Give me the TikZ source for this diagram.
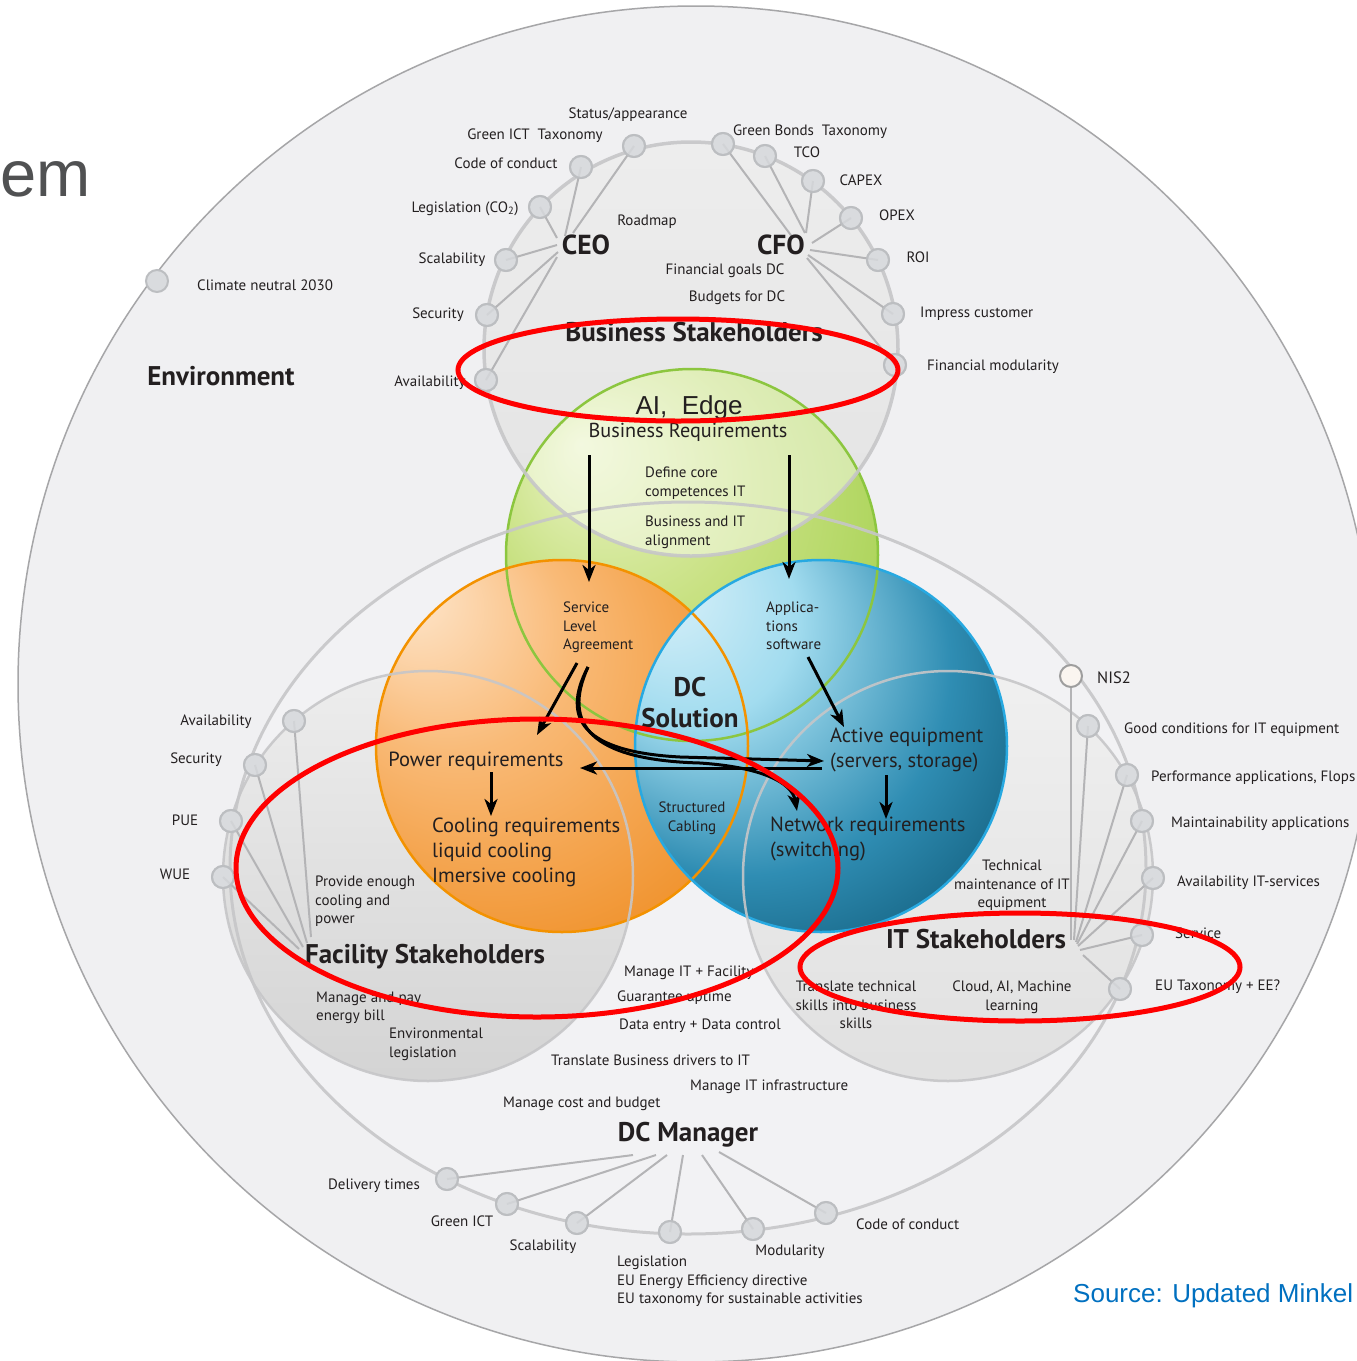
\documentclass[tikz,border=0pt]{standalone}
\usepackage{fontspec}
\setmainfont{PT Sans}
\newfontfamily\arialf{Liberation Sans}
\usetikzlibrary{arrows.meta}
\definecolor{envfill}{HTML}{F0F0F2}
\definecolor{envline}{HTML}{A6A6A8}
\definecolor{dcmfill}{HTML}{F2F2F4}
\definecolor{ringc}{HTML}{C6C6C8}
\definecolor{ndfill}{HTML}{D9DBDE}
\definecolor{ndline}{HTML}{BCBEC1}
\definecolor{connc}{HTML}{B4B4B6}
\definecolor{txt}{HTML}{231F20}
\definecolor{redc}{HTML}{FF0000}
\definecolor{grA}{HTML}{EAF4C6}
\definecolor{grB}{HTML}{C8E182}
\definecolor{grC}{HTML}{A2CF4C}
\definecolor{grD}{HTML}{8CC43C}
\definecolor{orA}{HTML}{FEE9D2}
\definecolor{orB}{HTML}{F9BA77}
\definecolor{orC}{HTML}{F0922C}
\definecolor{orD}{HTML}{DB790F}
\definecolor{blA}{HTML}{E2F4FB}
\definecolor{blB}{HTML}{A2DCEF}
\definecolor{blC}{HTML}{2F8DB3}
\definecolor{blE}{HTML}{105A78}
\definecolor{blD}{HTML}{083A50}
\definecolor{grline}{HTML}{8CC63F}
\definecolor{orline}{HTML}{F39200}
\definecolor{blline}{HTML}{27A9E1}
\definecolor{emgray}{HTML}{505152}
\definecolor{srcblue}{HTML}{0070C0}
\pgfdeclareradialshading{greensh}{\pgfpoint{-15bp}{15bp}}{color(0bp)=(grA); color(18bp)=(grB); color(38bp)=(grC); color(50bp)=(grD)}
\pgfdeclareradialshading{orangesh}{\pgfpoint{-22bp}{22bp}}{color(0bp)=(orA); color(16bp)=(orB); color(36bp)=(orC); color(50bp)=(orD)}
\pgfdeclareradialshading{bluesh}{\pgfpoint{-24bp}{24bp}}{color(0bp)=(blA); color(14bp)=(blB); color(28bp)=(blC); color(40bp)=(blE); color(50bp)=(blD)}
\tikzset{
 lbl/.style={font=\fontsize{15}{18.7}\selectfont, inner sep=0pt, text=txt, yshift=-2.5pt},
 mtx/.style={font=\fontsize{20.5}{25}\selectfont, inner sep=0pt, text=txt, yshift=-2.5pt},
 hd/.style={font=\bfseries\fontsize{27}{31}\selectfont, inner sep=0pt, text=txt, yshift=-2pt},
 nd/.style={circle, minimum size=22pt, inner sep=0pt, fill=ndfill, draw=ndline, line width=2pt},
 conn/.style={draw=connc, line width=2pt},
 arr/.style={draw=black, line width=3pt, -{Stealth[length=17pt,width=13pt,inset=5pt]}},
 redell/.style={draw=redc, line width=5pt},
 greyring/.style={draw=ringc, line width=3pt}
}
\begin{document}
\begin{tikzpicture}[x=1pt,y=-1pt]
\useasboundingbox (0,0) rectangle (1357,1361);
\fill[white] (0,0) rectangle (1357,1361);
% environment
\path[fill=envfill, draw=envline, line width=1.5pt] (696,684) circle [radius=678];
% DC manager ellipse fill
\path[fill=dcmfill] (688,868) ellipse [x radius=458, y radius=366];
% stakeholder circles fills
\shade[top color=white!93!black, bottom color=white!83!black] (428,876) circle [radius=205];
\shade[top color=white!94!black, bottom color=white!88!black] (948,876) circle [radius=205];
\shade[top color=white!93!black, bottom color=white!89!black] (691,349) circle [radius=207];
% coloured circles
\shade[shading=greensh] (692,555) circle [radius=186];
\begin{scope}
\clip (692,555) circle [radius=186];
\fill[white, opacity=0.45] (691,349) circle [radius=207];
\end{scope}
\shade[shading=orangesh] (562,746) circle [radius=186];
\shade[shading=bluesh] (821,746) circle [radius=186];
\draw[grline, line width=2.5pt] (692,555) circle [radius=186];
\draw[orline, line width=2.5pt] (562,746) circle [radius=186];
\draw[blline, line width=2.5pt] (821,746) circle [radius=186];
% grey rings on top
\draw[greyring, opacity=0.9] (688,868) ellipse [x radius=458, y radius=366];
\draw[greyring, line width=2.5pt, opacity=0.9] (428,876) circle [radius=205];
\draw[greyring, line width=2.5pt, opacity=0.9] (948,876) circle [radius=205];
\draw[greyring, line width=3.5pt, opacity=0.9] (691,349) circle [radius=207];

% ---------- business stakeholder nodes
\node[nd] (bAv) at (486,380) {};
\node[nd] (bSe) at (487,315) {};
\node[nd] (bSc) at (506,260) {};
\node[nd] (bLe) at (540,207) {};
\node[nd] (bCo) at (581,167) {};
\node[nd] (bSt) at (634,146) {};
\node[nd] (bGB) at (723,144) {};
\node[nd] (bTC) at (765,156) {};
\node[nd] (bCA) at (813,181) {};
\node[nd] (bOP) at (851,218) {};
\node[nd] (bRO) at (878,260) {};
\node[nd] (bIm) at (893,314) {};
\node[nd] (bFM) at (895,365) {};
\coordinate (ceoA) at (573,233);
\coordinate (ceoB) at (565,236);
\coordinate (ceoC) at (557,238);
\coordinate (ceoD) at (557,245);
\coordinate (ceoE) at (558,252);
\coordinate (ceoF) at (557,257);
\draw[conn] (ceoA) -- (bSt.center);
\draw[conn] (ceoB) -- (bCo.center);
\draw[conn] (ceoC) -- (bLe.center);
\draw[conn] (ceoD) -- (bSc.center);
\draw[conn] (ceoE) -- (bSe.center);
\draw[conn] (ceoF) -- (bAv.center);
\coordinate (cfoA) at (793,238);
\coordinate (cfoB) at (805,233);
\coordinate (cfoC) at (806,233);
\coordinate (cfoD) at (812,243);
\coordinate (cfoE) at (810,250);
\coordinate (cfoF) at (808,255);
\coordinate (cfoG) at (807,258);
\draw[conn] (cfoA) -- (bGB.center);
\draw[conn] (cfoB) -- (bTC.center);
\draw[conn] (cfoC) -- (bCA.center);
\draw[conn] (cfoD) -- (bOP.center);
\draw[conn] (cfoE) -- (bRO.center);
\draw[conn] (cfoF) -- (bIm.center);
\draw[conn] (cfoG) -- (bFM.center);
\foreach \n in {bAv,bSe,bSc,bLe,bCo,bSt,bGB,bTC,bCA,bOP,bRO,bIm,bFM}
  \node[nd, fill opacity=0.8] at (\n) {};

% ---------- facility nodes
\node[nd] (fAv) at (294,721) {};
\node[nd] (fSe) at (255,765) {};
\node[nd] (fPU) at (231,821) {};
\node[nd] (fWU) at (223,877) {};
\coordinate (fhA) at (311,937);
\coordinate (fhB) at (307,943);
\coordinate (fhC) at (303,947);
\coordinate (fhD) at (299,949);
\draw[conn] (fhA) -- (fAv.center);
\draw[conn] (fhB) -- (fSe.center);
\draw[conn] (fhC) -- (fPU.center);
\draw[conn] (fhD) -- (fWU.center);
\foreach \n in {fAv,fSe,fPU,fWU}
  \node[nd, fill opacity=0.8] at (\n) {};

% ---------- IT nodes
\node[nd, fill=white!92!brown, draw=white!62!black] (iNI) at (1071,676) {};
\node[nd] (iGC) at (1088,726) {};
\node[nd] (iPe) at (1127,775) {};
\node[nd] (iMa) at (1142,821) {};
\node[nd] (iAv) at (1153,878) {};
\node[nd] (iSe) at (1142,935) {};
\node[nd] (iEU) at (1120,989) {};
\coordinate (ihA) at (1071,940);
\coordinate (ihB) at (1074,940);
\coordinate (ihC) at (1076,942);
\coordinate (ihD) at (1077,944);
\coordinate (ihE) at (1078,946);
\coordinate (ihF) at (1080,950);
\coordinate (ihG) at (1083,955);
\draw[conn] (ihA) -- (iNI);
\draw[conn] (ihB) -- (iGC.center);
\draw[conn] (ihC) -- (iPe.center);
\draw[conn] (ihD) -- (iMa.center);
\draw[conn] (ihE) -- (iAv.center);
\draw[conn] (ihF) -- (iSe.center);
\draw[conn] (ihG) -- (iEU.center);
\foreach \n in {iGC,iPe,iMa,iAv,iSe,iEU}
  \node[nd, fill opacity=0.8] at (\n) {};

% ---------- DC manager nodes
\node[nd] (dDe) at (447,1179) {};
\node[nd] (dGr) at (507,1204) {};
\node[nd] (dSc) at (577,1223) {};
\node[nd] (dLe) at (670,1232) {};
\node[nd] (dMo) at (753,1229) {};
\node[nd] (dCo) at (826,1213) {};
\coordinate (dhA) at (633,1155);
\coordinate (dhB) at (656,1155);
\coordinate (dhC) at (667,1155);
\coordinate (dhD) at (683,1155);
\coordinate (dhE) at (702,1155);
\coordinate (dhF) at (719,1152);
\draw[conn] (dhA) -- (dDe.center);
\draw[conn] (dhB) -- (dGr.center);
\draw[conn] (dhC) -- (dSc.center);
\draw[conn] (dhD) -- (dLe.center);
\draw[conn] (dhE) -- (dMo.center);
\draw[conn] (dhF) -- (dCo.center);
\foreach \n in {dDe,dGr,dSc,dLe,dMo,dCo}
  \node[nd, fill opacity=0.8] at (\n) {};

% environment node
\node[nd] (eCl) at (157,281) {};

% ---------- labels: top
\node[lbl, anchor=mid] (tSt) at (628,113) {Status/appearance};
\node[lbl, anchor=mid] (tGI) at (535,134) {Green ICT\ \ Taxonomy};
\node[lbl, anchor=mid] (tCo) at (506,163) {Code of conduct};
\node[lbl, anchor=mid] (tLe) at (465,207) {Legislation (CO\textsubscript{2})};
\node[lbl, anchor=mid] (tSc) at (452,258) {Scalability};
\node[lbl, anchor=mid] (tSe) at (438,313) {Security};
\node[lbl, anchor=mid] (tAv) at (430,381) {Availability};
\node[lbl, anchor=mid] (tRo) at (647,220) {Roadmap};
\node[hd, font=\bfseries\fontsize{27.5}{31}\selectfont, anchor=mid] (tCEO) at (586,250) {CEO};
\node[hd, font=\bfseries\fontsize{27.5}{31}\selectfont, anchor=mid] (tCFO) at (781,250) {CFO};
\node[lbl, anchor=mid] (tFG) at (725,269) {Financial goals DC};
\node[lbl, anchor=mid] (tBu) at (737,296) {Budgets for DC};
\node[lbl, anchor=mid] (tGB) at (810,130) {Green Bonds\ \ Taxonomy};
\node[lbl, anchor=mid] (tTC) at (807,152) {TCO};
\node[lbl, anchor=mid] (tCA) at (861,180) {CAPEX};
\node[lbl, anchor=mid] (tOP) at (897,215) {OPEX};
\node[lbl, anchor=mid] (tRO) at (918,257) {ROI};
\node[lbl, anchor=mid west] (tIm) at (920,312) {Impress customer};
\node[lbl, anchor=mid west] (tFM) at (927,365) {Financial modularity};
\node[hd, anchor=mid] (tBS) at (694,337) {Business Stakeholders};
\node[lbl, anchor=mid west] (tCl) at (197,285) {Climate neutral 2030};
\node[hd, anchor=mid] (tEnv) at (221,381) {Environment};

% ---------- centre labels
\node[inner sep=0pt, anchor=mid, text=txt, font=\arialf\fontsize{26}{30}\selectfont, yshift=-2pt] (tAI) at (689,410) {AI,\ \ Edge};
\node[inner sep=0pt, anchor=mid, text=txt, font=\fontsize{20.2}{22}\selectfont, yshift=-2.5pt] (tBR) at (688,432) {Business Requirements};
\node[lbl, anchor=north west, align=left] (tDe) at (645,464) {Define core\\competences IT};
\node[lbl, anchor=north west, align=left] (tBI) at (645,513) {Business and IT\\alignment};
\node[lbl, anchor=north west, align=left] (tSLA) at (563,599) {Service\\Level\\Agreement};
\node[lbl, anchor=north west, align=left] (tApp) at (766,599) {Applica-\\tions\\software};
\node[hd, anchor=north, align=center] (tDCS) at (690,675) {DC\\Solution};
\node[mtx, anchor=mid] (tPow) at (476,761) {Power requirements};
\node[mtx, anchor=north west, align=left] (tCoo) at (432,815) {Cooling requirements\\liquid cooling\\Imersive cooling};
\node[lbl, anchor=north, align=center] (tStr) at (692,799) {Structured\\Cabling};
\node[mtx, anchor=north west, align=left] (tAct) at (830,725) {Active equipment\\(servers, storage)};
\node[mtx, anchor=north west, align=left] (tNet) at (770,814) {Network requirements\\(switching)};
\node[lbl, anchor=north, align=center] (tTe) at (1012,857) {Technical\\maintenance of IT\\equipment};
\node[lbl, anchor=north west, align=left] (tPr) at (315,873) {Provide enough\\cooling and\\power};
\node[hd, anchor=mid] (tFS) at (425,959) {Facility Stakeholders};
\node[lbl, anchor=north west, align=left] (tMP) at (316,989) {Manage and pay\\energy bill};
\node[lbl, anchor=north west, align=left] (tEL) at (389,1025) {Environmental\\legislation};
\node[lbl, anchor=mid west] (tMF) at (624,971) {Manage IT + Facility};
\node[lbl, anchor=mid west] (tGU) at (617,996) {Guarantee uptime};
\node[lbl, anchor=mid west] (tDE) at (619,1024) {Data entry + Data control};
\node[lbl, anchor=mid west] (tTB) at (551,1060) {Translate Business drivers to IT};
\node[lbl, anchor=mid west] (tMI) at (690,1085) {Manage IT infrastructure};
\node[lbl, anchor=mid west] (tMC) at (503,1102) {Manage cost and budget};
\node[hd, anchor=mid] (tDCM) at (688,1137) {DC Manager};
\node[hd, anchor=mid] (tITS) at (976,944) {IT Stakeholders};
\node[lbl, anchor=north, align=center] (tTT) at (856,978) {Translate technical\\skills into business\\skills};
\node[lbl, anchor=north, align=center] (tCl2) at (1012,978) {Cloud, AI, Machine\\learning};
% IT labels
\node[lbl, font=\fontsize{16.5}{19}\selectfont, anchor=mid west] (tNIS) at (1097,678) {NIS2};
\node[lbl, anchor=mid west] (tGC) at (1124,728) {Good conditions for IT equipment};
\node[lbl, anchor=mid west] (tPe) at (1151,776) {Performance applications, Flops};
\node[lbl, anchor=mid west] (tMa) at (1171,822) {Maintainability applications};
\node[lbl, anchor=mid west] (tAI2) at (1177,881) {Availability IT-services};
\node[lbl, anchor=mid west] (tSv) at (1175,933) {Service};
\node[lbl, anchor=mid west] (tEU) at (1155,985) {EU Taxonomy + EE?};
% facility labels
\node[lbl, anchor=mid] (tfA) at (216,720) {Availability};
\node[lbl, anchor=mid] (tfS) at (196,758) {Security};
\node[lbl, anchor=mid] (tfP) at (185,820) {PUE};
\node[lbl, anchor=mid] (tfW) at (175,874) {WUE};
% DC manager labels
\node[lbl, anchor=mid] (tdD) at (374,1184) {Delivery times};
\node[lbl, anchor=mid] (tdG) at (462,1221) {Green ICT};
\node[lbl, anchor=mid] (tdS) at (543,1245) {Scalability};
\node[lbl, anchor=north west, align=left] (tdL) at (617,1253) {Legislation\\EU Energy Efficiency directive\\EU taxonomy for sustainable activities};
\node[lbl, anchor=mid] (tdM) at (790,1250) {Modularity};
\node[lbl, anchor=mid west] (tdC) at (856,1224) {Code of conduct};

% slide remnants
\node[inner sep=0pt, anchor=base west, text=emgray, font=\arialf\fontsize{65}{72}\selectfont] (tEm) at (0,196) {em};
\node[inner sep=0pt, anchor=base west, text=srcblue, font=\arialf\fontsize{26}{30}\selectfont] (tSrc) at (1073,1302) {Source: Updated Minkel};

% ---------- arrows
\coordinate (a1s) at (589,455); \coordinate (a1e) at (589,582);
\coordinate (a2s) at (789,455); \coordinate (a2e) at (789,579);
\coordinate (a3s) at (577,663); \coordinate (a3e) at (537,735);
\coordinate (a4s) at (588,667); \coordinate (a4e) at (824,761);
\coordinate (a5e) at (797,811);
\coordinate (a6s) at (822,768); \coordinate (a6e) at (580,768);
\coordinate (a7s) at (808,657); \coordinate (a7e) at (844,727);
\coordinate (a8s) at (886,775); \coordinate (a8e) at (886,819);
\coordinate (a9s) at (491,772); \coordinate (a9e) at (491,816);
\draw[arr] (a1s) -- (a1e);
\draw[arr] (a2s) -- (a2e);
\draw[arr] (a3s) -- (a3e);
\draw[arr] (a4s) .. controls (560,720) and (585,752) .. (680,757) -- (a4e);
\draw[arr] (a4s) .. controls (562,724) and (590,760) .. (700,763) .. controls (760,767) and (792,782) .. (a5e);
\draw[arr] (a6s) -- (a6e);
\draw[arr] (a7s) -- (a7e);
\draw[arr] (a8s) -- (a8e);
\draw[arr] (a9s) -- (a9e);

% ---------- red highlight ellipses
\draw[redell] (678,370) ellipse [x radius=220, y radius=51];
\draw[redell] (537,868) ellipse [x radius=301, y radius=149];
\draw[redell] (1020,967) ellipse [x radius=220, y radius=54];
\end{tikzpicture}
\end{document}
